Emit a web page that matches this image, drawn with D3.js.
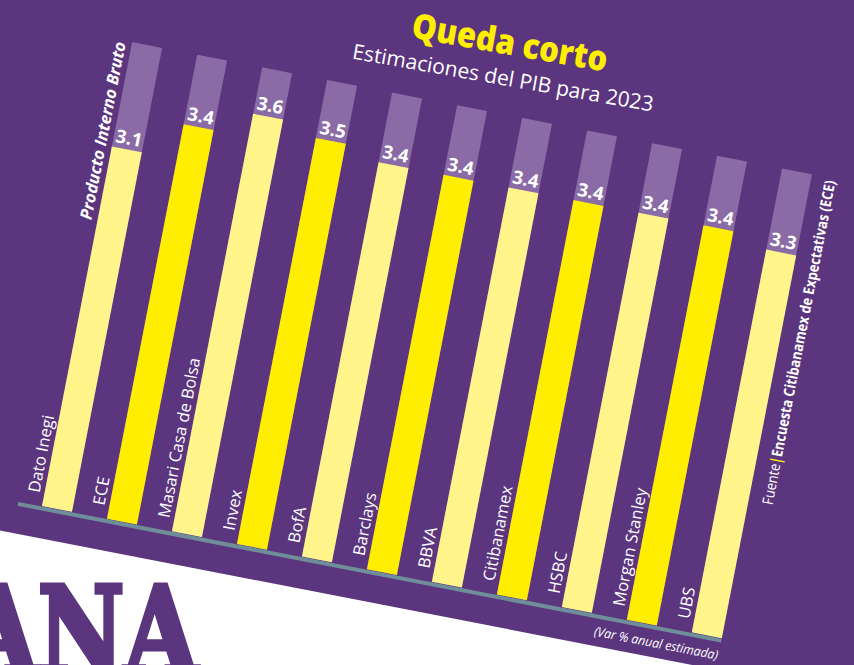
<!DOCTYPE html>
<html><head><meta charset="utf-8">
<script src="https://cdn.jsdelivr.net/npm/d3@7"></script>
<style>html,body{margin:0;padding:0;background:#fff;} svg{display:block;}</style>
</head><body>
<script>
// ---- data ----
const categories = ["Dato Inegi","ECE","Masari Casa de Bolsa","Invex","BofA","Barclays","BBVA","Citibanamex","HSBC","Morgan Stanley","UBS"];
const values = [3.1, 3.4, 3.6, 3.5, 3.4, 3.4, 3.4, 3.4, 3.4, 3.4, 3.3];
const scaleMax = 4;
const titleText = "Queda corto";
const subtitleText = "Estimaciones del PIB para 2023";
const axisTitle = "Producto Interno Bruto";
const unitNote = "(Var % anual estimada)";
const sourceLabel = "Fuente";
const sourceText = "Encuesta Citibanamex de Expectativas (ECE)";
const brandText = "ANA";

// ---- style ----
const W = 854, H = 665;
const PURPLE = "#5b357e", BARBG = "#8a6ba5", LIGHT = "#fff58a", BRIGHT = "#ffee00", LINE = "#6f8e9a";
const FONT = "'Open Sans', 'Noto Sans', sans-serif";

const svg = d3.select("body").append("svg").attr("width", W).attr("height", H);
svg.append("rect").attr("width", W).attr("height", H).attr("fill", "#fff");

svg.append("text")
  .attr("x", -36).attr("y", 674)
  .style("font-family", "'DejaVu Serif', 'Liberation Serif', serif").style("font-weight", "700")
  .attr("font-size", 122).attr("fill", PURPLE)
  .attr("stroke", PURPLE).attr("stroke-width", 5).attr("stroke-linejoin", "miter")
  .attr("textLength", 234).attr("lengthAdjust", "spacingAndGlyphs")
  .text(brandText);

const g = svg.append("g").attr("transform", "translate(42,506) rotate(11)");
g.append("rect").attr("x", -700).attr("y", -1300).attr("width", 2600).attr("height", 1332).attr("fill", PURPLE);

const step = 66.2, bw = 30.5;
const x = d3.scaleBand().domain(categories)
  .range([0, step * categories.length - (step - bw)])
  .paddingInner(1 - bw / step).paddingOuter(0);
const y = d3.scaleLinear().domain([0, scaleMax]).range([0, -472.6]);

// background bars
g.selectAll("rect.bg").data(categories).join("rect").attr("class", "bg")
  .attr("x", d => x(d)).attr("y", y(scaleMax))
  .attr("width", x.bandwidth()).attr("height", y(0) - y(scaleMax))
  .attr("fill", BARBG);

// value bars
g.selectAll("rect.val").data(values).join("rect").attr("class", "val")
  .attr("x", (d, i) => x(categories[i])).attr("y", d => y(d))
  .attr("width", x.bandwidth()).attr("height", d => y(0) - y(d))
  .attr("fill", (d, i) => i % 2 ? BRIGHT : LIGHT);

// value labels
g.selectAll("text.vl").data(values).join("text").attr("class", "vl")
  .attr("x", (d, i) => x(categories[i]) + x.bandwidth() / 2)
  .attr("y", d => y(d) - 5)
  .attr("text-anchor", "middle").attr("font-family", FONT).attr("font-weight", 700)
  .attr("font-size", 18.5).attr("fill", "#fff")
  .text(d => d.toFixed(1));

// category labels
g.selectAll("text.cat").data(categories).join("text").attr("class", "cat")
  .attr("transform", d => `translate(${x(d) - 5},-12) rotate(-90)`)
  .attr("font-family", FONT).attr("font-weight", 500).attr("font-size", 16.5).attr("fill", "#fff")
  .text(d => d);

// baseline
g.append("line").attr("x1", -24).attr("x2", x.range()[1]).attr("y1", 2.5).attr("y2", 2.5)
  .attr("stroke", LINE).attr("stroke-width", 4);

// axis title
g.append("text")
  .attr("transform", `translate(-6,${y(scaleMax) + 2}) rotate(-90)`)
  .attr("text-anchor", "end").attr("font-family", FONT).attr("font-weight", 700)
  .attr("font-style", "italic").attr("font-size", 16.5).attr("fill", "#fff")
  .attr("textLength", 181).attr("lengthAdjust", "spacingAndGlyphs")
  .text(axisTitle);

// source
const src = g.append("text")
  .attr("transform", `translate(717,-140) rotate(-90)`)
  .attr("font-family", FONT).attr("font-size", 15).attr("fill", "#fff")
  .attr("textLength", 330).attr("lengthAdjust", "spacingAndGlyphs");
src.append("tspan").text(sourceLabel);
src.append("tspan").attr("fill", BRIGHT).attr("font-weight", 700).text("|");
src.append("tspan").attr("font-weight", 700).text(sourceText);

// unit note
g.append("text").attr("x", 692).attr("y", 22)
  .attr("text-anchor", "end").attr("font-family", FONT).attr("font-style", "italic")
  .attr("font-size", 13).attr("fill", "#fff")
  .attr("textLength", 126).attr("lengthAdjust", "spacingAndGlyphs")
  .text(unitNote);

// title & subtitle
g.append("text").attr("x", 371).attr("y", -532)
  .attr("transform", "rotate(-1,371,-532)")
  .attr("text-anchor", "middle").attr("font-family", FONT).attr("font-weight", 800)
  .attr("font-size", 35).attr("fill", BRIGHT)
  .attr("textLength", 198).attr("lengthAdjust", "spacingAndGlyphs")
  .text(titleText);
g.append("text").attr("x", 371).attr("y", -501)
  .attr("transform", "rotate(-1,371,-501)")
  .attr("text-anchor", "middle").attr("font-family", FONT).attr("font-weight", 500)
  .attr("font-size", 21).attr("fill", "#fff")
  .attr("textLength", 305).attr("lengthAdjust", "spacingAndGlyphs")
  .text(subtitleText);
</script>
</body></html>
